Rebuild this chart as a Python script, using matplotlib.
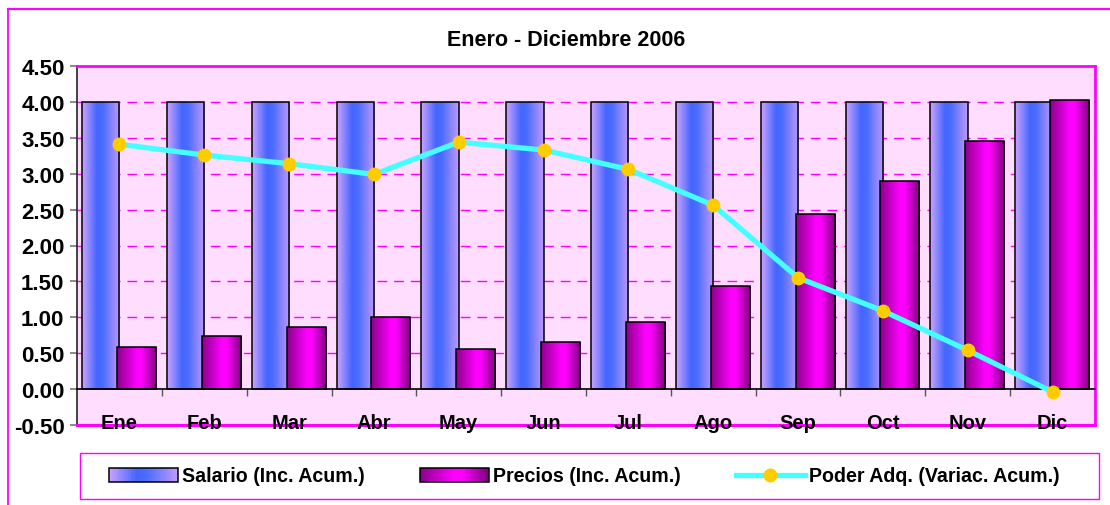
import numpy as np
import matplotlib
matplotlib.use('Agg')
import matplotlib.pyplot as plt
from matplotlib.colors import LinearSegmentedColormap
from matplotlib.patches import Rectangle
from matplotlib.lines import Line2D
from matplotlib.legend_handler import HandlerBase

plt.rcParams['font.family'] = ['Liberation Sans', 'DejaVu Sans']

# data
meses = ['Ene', 'Feb', 'Mar', 'Abr', 'May', 'Jun', 'Jul', 'Ago', 'Sep', 'Oct', 'Nov', 'Dic']
salario = [4.00, 4.00, 4.00, 4.00, 4.00, 4.00, 4.00, 4.00, 4.00, 4.00, 4.00, 4.00]
precios = [0.58, 0.74, 0.86, 1.01, 0.56, 0.65, 0.94, 1.44, 2.44, 2.90, 3.46, 4.03]
poder = [3.41, 3.26, 3.14, 2.99, 3.44, 3.33, 3.06, 2.56, 1.55, 1.09, 0.54, -0.04]
y_ticks = [-0.5, 0.0, 0.5, 1.0, 1.5, 2.0, 2.5, 3.0, 3.5, 4.0, 4.5]

labels = ['Salario (Inc. Acum.)', 'Precios (Inc. Acum.)', 'Poder Adq. (Variac. Acum.)']
title = 'Enero - Diciembre 2006'

magenta = '#FF00FF'
bg = '#FFDDFF'

cmap_sal = LinearSegmentedColormap.from_list(
    'sal', [(0.0, '#CCA3FF'), (0.4, '#4466FF'), (0.55, '#4A6CFF'), (1.0, '#C099FF')])
cmap_pre = LinearSegmentedColormap.from_list(
    'pre', [(0.0, '#8A008A'), (0.5, '#FF00FF'), (0.62, '#FF00FF'), (1.0, '#7A007A')])


class GradientHandler(HandlerBase):
    def __init__(self, cmap):
        super().__init__()
        self.cmap = cmap

    def create_artists(self, legend, orig_handle, xdescent, ydescent,
                       width, height, fontsize, trans):
        n = 40
        arts = []
        for k in range(n):
            r = Rectangle((-xdescent + width * k / n, -ydescent), width / n + 0.3, height,
                          facecolor=self.cmap((k + 0.5) / n), edgecolor='none',
                          transform=trans)
            arts.append(r)
        arts.append(Rectangle((-xdescent, -ydescent), width, height, fill=False,
                              edgecolor='black', lw=1.1, transform=trans))
        return arts


W, H = 1110, 506
fig = plt.figure(figsize=(W / 100, H / 100), dpi=100)
fig.patch.set_facecolor('white')

# outer chart border (right/bottom sides fall outside the picture)
fig.add_artist(Line2D([8 / W, 1], [1 - 10 / H, 1 - 10 / H], color=magenta, lw=1.6))
fig.add_artist(Line2D([8 / W, 8 / W], [0, 1 - 10 / H], color=magenta, lw=1.3))

ax = fig.add_axes([77 / W, 1 - 426 / H, (1095 - 77) / W, (426 - 67) / H])
ax.set_facecolor(bg)

x = np.arange(len(meses))
w_sal, w_pre = 0.44, 0.46
bars_sal = ax.bar(x - 0.22, salario, w_sal, facecolor='none', edgecolor='black', lw=1.1, zorder=2)
bars_pre = ax.bar(x + 0.2, precios, w_pre, facecolor='none', edgecolor='black', lw=1.1, zorder=2.2)

grad = np.linspace(0, 1, 256).reshape(1, -1)
for bars, cm, z in [(bars_sal, cmap_sal, 1.5), (bars_pre, cmap_pre, 2.1)]:
    for rect in bars:
        x0, w, h = rect.get_x(), rect.get_width(), rect.get_height()
        im = ax.imshow(grad, extent=[x0, x0 + w, 0, h], cmap=cm, aspect='auto',
                       interpolation='bilinear', zorder=z)
        im.set_clip_path(rect)

ax.plot(x, poder, color='#44FFFF', lw=3.8, marker='o', ms=9,
        mfc='#FFCC00', mec='#FFCC00', zorder=4)

ax.set_xlim(-0.5, len(meses) - 0.5)
ax.set_ylim(-0.5, 4.5)

# grid
ax.set_yticks(y_ticks)
ax.set_yticklabels([f'{v:.2f}' for v in y_ticks], fontsize=16, fontweight='bold')
for v in y_ticks[2:-1]:
    ax.axhline(v, color=magenta, lw=1, ls=(0, (7, 5)), zorder=0.5)

# spines
ax.spines['bottom'].set_position(('data', 0))
ax.spines['bottom'].set_color('black')
ax.spines['bottom'].set_linewidth(1.2)
ax.spines['left'].set_color('#222222')
ax.spines['left'].set_linewidth(1.2)
for s in ['top', 'right']:
    ax.spines[s].set_color(magenta)
    ax.spines[s].set_linewidth(2)
ax.axhline(-0.5, color=magenta, lw=2.2, clip_on=False, zorder=3)

ax.set_xticks(np.arange(0.5, len(meses), 1.0))
ax.set_xticklabels([])
ax.tick_params(axis='x', direction='out', length=5, color='#555555', width=1)
ax.tick_params(axis='y', direction='out', length=5, color='#777777', width=1.2, pad=4)

for i, m in enumerate(meses):
    ax.text(i, -0.465, m, ha='center', va='center', fontsize=14.5, fontweight='bold',
            zorder=6, clip_on=False)

fig.text(566 / W, 1 - 40 / H, title, ha='center', va='center', fontsize=15.5, fontweight='bold')

# legend
handles = [Rectangle((0, 0), 1, 1), Rectangle((0, 0), 1, 1),
           Line2D([], [], color='#44FFFF', lw=3.8, marker='o', ms=9,
                  mfc='#FFCC00', mec='#FFCC00')]
leg = fig.legend(handles, labels, loc='center left', bbox_to_anchor=(109 / W, 1 - 477 / H),
                 ncol=3, frameon=False, borderpad=0, borderaxespad=0,
                 handlelength=3.5, handleheight=0.7, handletextpad=0.25, columnspacing=2.8,
                 prop={'weight': 'bold', 'size': 14.1},
                 handler_map={handles[0]: GradientHandler(cmap_sal),
                              handles[1]: GradientHandler(cmap_pre)})
fig.add_artist(Rectangle((80 / W, 1 - 500 / H), (1099 - 80) / W, 46 / H, fill=False,
                         edgecolor=magenta, lw=1.0, transform=fig.transFigure))

fig.savefig('out.png', dpi=100)
